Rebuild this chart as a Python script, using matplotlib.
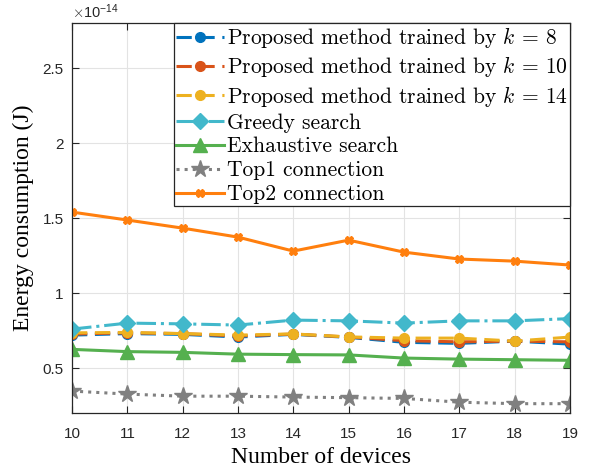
import matplotlib
matplotlib.use("Agg")
import matplotlib.pyplot as plt
import numpy as np

plt.rcParams['mathtext.fontset'] = 'cm'

# energy consumption, units of 1e-14 J
devices = [10, 11, 12, 13, 14, 15, 16, 17, 18, 19]
prop_k8 = [0.72, 0.73, 0.725, 0.707, 0.725, 0.705, 0.672, 0.665, 0.68, 0.66]
prop_k10 = [0.727, 0.735, 0.73, 0.714, 0.727, 0.707, 0.683, 0.675, 0.68, 0.675]
prop_k14 = [0.735, 0.738, 0.73, 0.72, 0.728, 0.708, 0.70, 0.70, 0.68, 0.707]
greedy = [0.76, 0.80, 0.795, 0.787, 0.82, 0.815, 0.80, 0.815, 0.815, 0.83]
exhaustive = [0.625, 0.61, 0.605, 0.593, 0.59, 0.588, 0.567, 0.56, 0.556, 0.552]
top1 = [0.347, 0.327, 0.313, 0.313, 0.307, 0.303, 0.298, 0.273, 0.263, 0.263]
top2 = [1.54, 1.487, 1.433, 1.373, 1.28, 1.353, 1.273, 1.227, 1.213, 1.187]
yticks = [0.5, 1, 1.5, 2, 2.5]

x = np.array(devices)
scale = 1e-14

fig = plt.figure(figsize=(5.95, 4.7), dpi=100)
ax = fig.add_axes([0.121, 0.121, 0.837, 0.83])

ax.plot(x, np.array(prop_k8) * scale, '--o', color='#0072BD', lw=2.2, ms=7,
        dashes=(5, 2.5), label=r'Proposed method trained by $k$ = 8')
ax.plot(x, np.array(prop_k10) * scale, '--o', color='#D95319', lw=2.2, ms=7,
        dashes=(5, 2.5), label=r'Proposed method trained by $k$ = 10')
ax.plot(x, np.array(prop_k14) * scale, '--o', color='#EDB120', lw=2.2, ms=7,
        dashes=(5, 2.5), label=r'Proposed method trained by $k$ = 14')
ax.plot(x, np.array(greedy) * scale, '-.D', color='#42B8CB', lw=2.2, ms=8,
        label='Greedy search')
ax.plot(x, np.array(exhaustive) * scale, '-^', color='#55B04F', lw=2.2, ms=10,
        label='Exhaustive search')
ax.plot(x, np.array(top1) * scale, ':*', color='#808080', lw=2.2, ms=13,
        label='Top1 connection')
ax.plot(x, np.array(top2) * scale, '-X', color='#FF7F0E', lw=2.2, ms=6,
        label='Top2 connection')

ax.set_xlim(10, 19)
ax.set_ylim(0.2e-14, 2.8e-14)
ax.set_xticks(devices)
ax.set_yticks(np.array(yticks) * scale)
ax.set_yticklabels([f'{v:g}' for v in yticks])
ax.text(0.0, 1.005, r'$\times\mathregular{10^{-14}}$', transform=ax.transAxes,
        fontsize=10.5, color='#262626', family='Liberation Sans', va='bottom')

ax.grid(True, color='#e3e3e3', lw=0.8)
ax.tick_params(direction='in', top=True, right=True, labelsize=11,
               colors='#262626', length=5)
ax.tick_params(axis='x', pad=10)
ax.tick_params(axis='y', pad=6)
for lbl in ax.get_xticklabels() + ax.get_yticklabels():
    lbl.set_family('Liberation Sans')
for s in ax.spines.values():
    s.set_color('#262626')
    s.set_linewidth(0.9)

ax.set_xlabel('Number of devices', family='Liberation Serif', fontsize=17,
              labelpad=4)
ax.set_ylabel('Energy consumption (J)', family='Liberation Serif', fontsize=17,
              labelpad=6)

leg = ax.legend(loc='upper right', prop={'family': 'cmr10', 'size': 15.5},
                frameon=True, fancybox=False, edgecolor='#262626', framealpha=1,
                borderaxespad=0, handlelength=2.2, handletextpad=0.15,
                labelspacing=0.2, borderpad=0.1)
leg.get_frame().set_linewidth(0.9)

fig.savefig('out.png', dpi=100)
